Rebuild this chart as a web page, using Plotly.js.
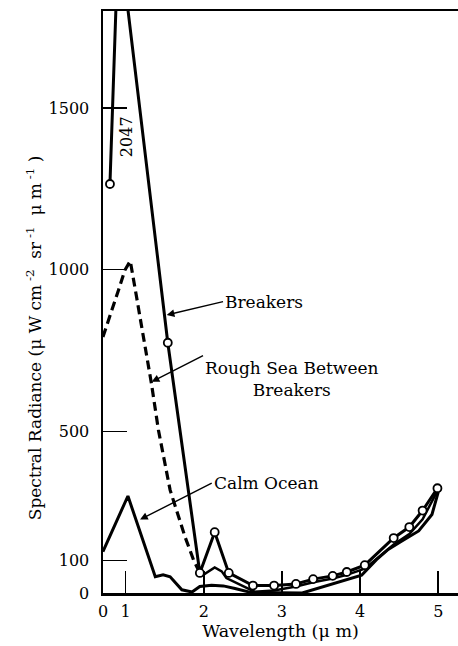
<!DOCTYPE html>
<html>
<head>
<meta charset="utf-8">
<script src="https://cdn.plot.ly/plotly-3.0.1.min.js"></script>
<style>html,body{margin:0;padding:0;background:#fff;}</style>
</head>
<body>
<div id="chart" style="width:458px;height:646px;"></div>
<script>
// Wavelength (µm) and spectral radiance (µW cm^-2 sr^-1 µm^-1)
const breakersX = [0.80, 0.91, 1.54, 1.95, 2.14, 2.32, 2.63, 2.90, 3.18, 3.40, 3.65, 3.83, 4.06, 4.43, 4.63, 4.80, 4.99];
const breakersY = [1265, 2047, 774, 62, 188, 62, 23, 23, 28, 43, 53, 65, 86, 170, 204, 255, 324];

const roughX = [0.71, 0.80, 0.91, 0.99, 1.06, 1.14, 1.23, 1.33, 1.42, 1.57, 1.76, 1.87, 1.95, 2.00, 2.14, 2.23, 2.29, 2.42, 2.55, 2.65, 2.90, 3.18, 3.40, 3.65, 3.83, 4.06, 4.21, 4.43, 4.63, 4.80, 4.99];
const roughY = [792, 854, 937, 998, 1027, 916, 792, 649, 504, 318, 174, 102, 62, 57, 79, 67, 46, 31, 15, 4, 8, 20, 33, 45, 56, 75, 105, 150, 182, 228, 316];

const calmX = [0.71, 1.03, 1.38, 1.48, 1.57, 1.72, 1.85, 1.95, 2.10, 2.25, 2.40, 2.60, 3.26, 4.02, 4.21, 4.36, 4.53, 4.75, 4.92, 5.00];
const calmY = [128, 300, 50, 56, 50, 10, 3, 20, 24, 22, 14, 2, 0, 55, 103, 135, 160, 192, 243, 312];

const peakLabel = '2047';
const xTickVals = [0.711, 1, 2, 3, 4, 5];
const xTickText = ['0', '1', '2', '3', '4', '5'];
const yTickVals = [0, 100, 500, 1000, 1500];

const yMax = 1800;
const black = '#000';
const NB = '\u00A0';

// rough sea: dashed until ~2 µm, solid after
const dashIdx = roughX.map((x, i) => i).filter(i => roughX[i] <= 1.96);
const solidIdx = roughX.map((x, i) => i).filter(i => roughX[i] >= 1.95);

const traces = [
  {
    x: calmX, y: calmY, mode: 'lines', type: 'scatter',
    line: {color: black, width: 3}, hoverinfo: 'skip'
  },
  {
    x: dashIdx.map(i => roughX[i]), y: dashIdx.map(i => roughY[i]), mode: 'lines', type: 'scatter',
    line: {color: black, width: 3.2, dash: '9px,5px'}, hoverinfo: 'skip'
  },
  {
    x: solidIdx.map(i => roughX[i]), y: solidIdx.map(i => roughY[i]), mode: 'lines', type: 'scatter',
    line: {color: black, width: 2.5}, hoverinfo: 'skip'
  },
  {
    x: breakersX, y: breakersY, mode: 'lines+markers', type: 'scatter',
    line: {color: black, width: 3},
    marker: {
      symbol: 'circle', color: 'rgb(255,255,255)', opacity: 1,
      size: breakersY.map(v => v > yMax ? 0 : 8),
      line: {color: black, width: 1.8}
    },
    hoverinfo: 'skip'
  }
];

const tickFont = {family: 'DejaVu Serif', size: 16, color: black};
const txtFont = {family: 'DejaVu Serif', size: 17, color: black};

const yTitle = 'Spectral Radiance (μ W' + NB + 'cm<sup>' + NB + '-2</sup>' + NB + NB + 'sr<sup>' + NB + '-1</sup>' + NB + NB + 'μ m<sup>' + NB + '-1</sup>' + NB + ')';

const arrowStyle = {showarrow: true, arrowhead: 2, arrowsize: 1.1, arrowwidth: 1.4, arrowcolor: black, axref: 'x', ayref: 'y'};

const layout = {
  width: 458, height: 646,
  margin: {l: 103, r: 0, t: 11, b: 53},
  paper_bgcolor: '#fff', plot_bgcolor: '#fff',
  showlegend: false,
  font: txtFont,
  xaxis: {
    range: [0.711, 5.253],
    tickvals: xTickVals, ticktext: xTickText,
    ticks: 'inside', ticklen: 22, tickwidth: 1.5, tickcolor: black,
    showline: true, linewidth: 2.5, linecolor: black, mirror: true,
    showgrid: false, zeroline: false,
    tickfont: tickFont, ticklabelstandoff: 2,
    title: {text: 'Wavelength (μ m)', font: {family: 'DejaVu Serif', size: 17.5, color: black}, standoff: 4}
  },
  yaxis: {
    range: [0, yMax],
    tickvals: yTickVals,
    ticks: 'inside', ticklen: 24, tickwidth: 1.5, tickcolor: black,
    showline: true, linewidth: 2.5, linecolor: black,
    showgrid: false, zeroline: false,
    tickfont: tickFont,
    ticklabelstandoff: 8
  },
  annotations: [
    Object.assign({x: 1.526, y: 860, ax: 2.247, ay: 901, text: 'Breakers', xanchor: 'left', yanchor: 'middle', font: txtFont}, arrowStyle),
    Object.assign({x: 1.334, y: 653, ax: 1.991, ay: 734, text: 'Rough Sea Between<br>Breakers', xanchor: 'left', yanchor: 'top', align: 'center', font: txtFont}, arrowStyle),
    Object.assign({x: 1.185, y: 227, ax: 2.102, ay: 340, text: 'Calm Ocean', xanchor: 'left', yanchor: 'middle', font: txtFont}, arrowStyle),
    {x: 1.006, y: 1410, text: peakLabel, textangle: -90, showarrow: false, xanchor: 'center', yanchor: 'middle', font: tickFont},
    {xref: 'paper', yref: 'paper', x: -0.194, y: 0.438, text: yTitle, textangle: -90, showarrow: false, xanchor: 'center', yanchor: 'middle', font: txtFont}
  ]
};

Plotly.newPlot('chart', traces, layout, {staticPlot: true, displayModeBar: false});
</script>
</body>
</html>
